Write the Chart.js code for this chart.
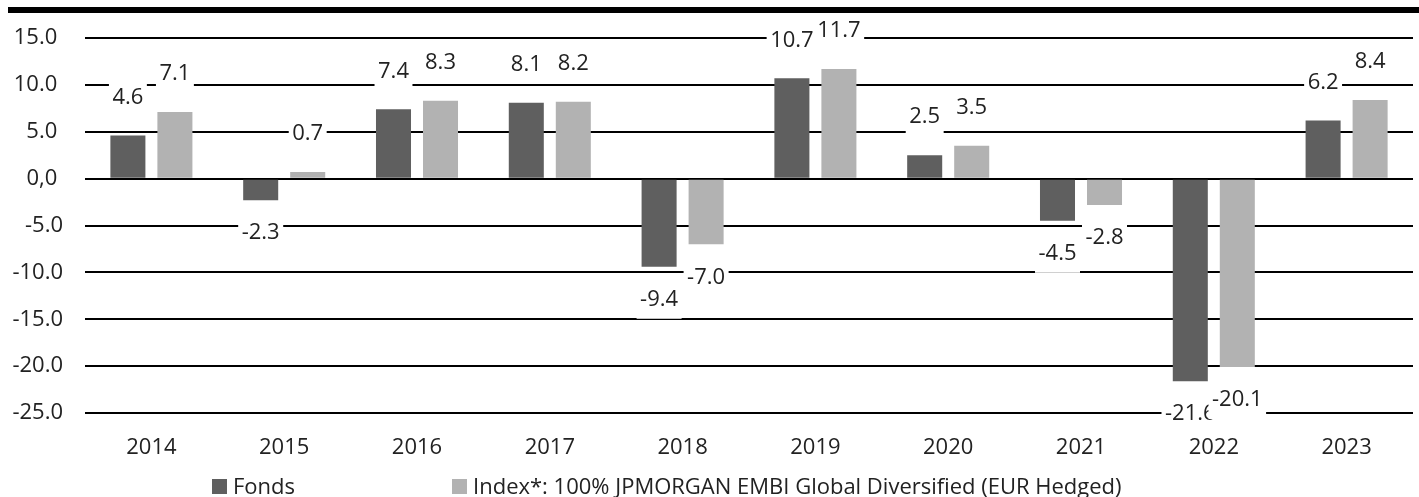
<!DOCTYPE html>
<html>
<head>
<meta charset="utf-8">
<script src="https://cdn.jsdelivr.net/npm/chart.js@4"></script>
<style>
  html, body { margin: 0; padding: 0; background: #fff; }
  .wrap { position: relative; width: 1419px; height: 497px; overflow: hidden; font-family: 'Open Sans', sans-serif; }
  .topbar { position: absolute; left: 8px; right: 0; top: 7px; height: 6px; background: #000; z-index: 2; }
  .canvas-box { position: absolute; left: 0; top: 0; width: 1419px; height: 497px; }
  .legend { position: absolute; left: 212px; top: 474px; display: flex; align-items: center; font-size: 22px; line-height: 22px; color: #222; }
  .legend .item { display: flex; align-items: center; }
  .legend .sw { width: 15px; height: 15px; margin-right: 6px; margin-top: 2px; }
  .legend .item + .item { margin-left: 157px; }
</style>
</head>
<body>
<div class="wrap">
  <div class="topbar"></div>
  <div class="canvas-box"><canvas id="chart" width="1419" height="497"></canvas></div>
  <div class="legend" id="legend"></div>
</div>
<script>
const years = ['2014', '2015', '2016', '2017', '2018', '2019', '2020', '2021', '2022', '2023'];
const fondsValues = [4.6, -2.3, 7.4, 8.1, -9.4, 10.7, 2.5, -4.5, -21.6, 6.2];
const indexValues = [7.1, 0.7, 8.3, 8.2, -7.0, 11.7, 3.5, -2.8, -20.1, 8.4];
const seriesNames = ['Fonds', 'Index*: 100% JPMORGAN EMBI Global Diversified (EUR Hedged)'];
const seriesColors = ['#5f5f5f', '#b2b2b2'];
const yTickValues = [15, 10, 5, 0, -5, -10, -15, -20, -25];

const FONT = "'Open Sans', sans-serif";
const TEXT = '#222';

// labels in white boxes, drawn per dataset so later boxes cover earlier ones
const valueLabels = {
  id: 'valueLabels',
  afterDatasetsDraw(chart) {
    const ctx = chart.ctx;
    ctx.save();
    ctx.font = `22px ${FONT}`;
    ctx.textAlign = 'center';
    ctx.textBaseline = 'middle';
    chart.data.datasets.forEach((ds, i) => {
      chart.getDatasetMeta(i).data.forEach((bar, j) => {
        const v = ds.data[j];
        const txt = v.toFixed(1);
        const y = v >= 0 ? bar.y - 38 : bar.y + 33;
        const w = ctx.measureText(txt).width + 7;
        ctx.fillStyle = '#fff';
        ctx.fillRect(bar.x - w / 2, y - 19, w, 38);
        ctx.fillStyle = TEXT;
        ctx.fillText(txt, bar.x, y);
      });
    });
    ctx.restore();
  }
};

new Chart(document.getElementById('chart'), {
  type: 'bar',
  data: {
    labels: years,
    datasets: [
      { label: seriesNames[0], data: fondsValues, backgroundColor: seriesColors[0] },
      { label: seriesNames[1], data: indexValues, backgroundColor: seriesColors[1] },
    ],
  },
  options: {
    responsive: false,
    animation: false,
    layout: { padding: { top: 38, right: 6, bottom: 27, left: 0 } },
    datasets: { bar: { categoryPercentage: 0.708, barPercentage: 0.745 } },
    plugins: { legend: { display: false }, tooltip: { enabled: false } },
    scales: {
      x: {
        grid: { display: false, drawTicks: false },
        border: { display: false },
        ticks: { color: TEXT, font: { family: FONT, size: 22 }, padding: 22, maxRotation: 0 },
        afterFit: (s) => { s.height = 57; },
      },
      y: {
        min: -25,
        max: 15,
        afterBuildTicks: (s) => { s.ticks = yTickValues.map(v => ({ value: v })); },
        grid: { color: '#000', lineWidth: 2, drawTicks: false },
        border: { display: false },
        ticks: {
          color: TEXT,
          font: { family: FONT, size: 22 },
          padding: 22,
          callback: (v) => v === 0 ? '0,0 ' : (v > 0 ? v.toFixed(1) + ' ' : v.toFixed(1)),
        },
        afterFit: (s) => { s.width = 85; },
      },
    },
  },
  plugins: [valueLabels],
});

const legend = document.getElementById('legend');
seriesNames.forEach((name, i) => {
  const item = document.createElement('div');
  item.className = 'item';
  item.innerHTML = `<span class="sw" style="background:${seriesColors[i]}"></span><span>${name}</span>`;
  legend.appendChild(item);
});
</script>
</body>
</html>
